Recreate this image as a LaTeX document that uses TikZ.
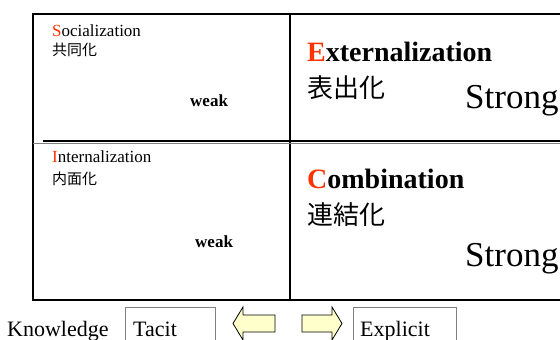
\documentclass[tikz,border=0pt]{standalone}
\usepackage{fontspec}
\setmainfont{Liberation Serif}
\newfontfamily\jpfont{Noto Sans CJK JP}
\definecolor{initRed}{HTML}{FF3300}
\definecolor{arrowYellow}{HTML}{FFFFCC}

\tikzstyle{smallTitle} = [anchor=base west, inner sep=0pt, font={\fontsize{17}{17}\selectfont}]
\tikzstyle{bigTitle} = [anchor=base west, inner sep=0pt, font={\fontsize{28}{28}\selectfont\bfseries}]
\tikzstyle{smallKanji} = [anchor=base west, inner sep=0pt, font={\jpfont\fontsize{15}{15}\selectfont}]
\tikzstyle{bigKanji} = [anchor=base west, inner sep=0pt, font={\jpfont\fontsize{26}{26}\selectfont}]
\tikzstyle{weakText} = [anchor=base west, inner sep=0pt, font={\fontsize{17}{17}\selectfont\bfseries}]
\tikzstyle{strongText} = [anchor=base west, inner sep=0pt, font={\fontsize{35}{35}\selectfont}]
\tikzstyle{knowText} = [anchor=base west, inner sep=0pt, font={\fontsize{22}{22}\selectfont}]
\tikzstyle{knowBox} = [rectangle, draw=gray, line width=1pt, anchor=north west, minimum height=45pt]
\tikzstyle{gridLine} = [line width=2pt]
\tikzstyle{yellowArrow} = [draw=black, fill=arrowYellow, line width=0.8pt, line join=miter]

\begin{document}
\begin{tikzpicture}[x=1pt, y=-1pt]
            \useasboundingbox (0,0) rectangle (560,340);
            % grid
            \coordinate (TL) at (33,14);
            \coordinate (TR) at (566,14);
            \coordinate (BL) at (33,300);
            \coordinate (BR) at (566,300);
            \coordinate (TM) at (290,14);
            \coordinate (BM) at (290,300);
            \coordinate (ML) at (43,141);
            \coordinate (MR) at (566,141);
            \draw[gridLine] (TL) rectangle (BR);
            \draw[gridLine] (TM) -- (BM);
            \draw[gray, line width=0.8pt] (33,143) -- (MR |- 0,143);
            \draw[gridLine] (ML) -- (MR);
            % quadrants
            \node[smallTitle] (SO) at (52,36) {\textcolor{initRed}{S}ocialization};
            \node[smallKanji] (SOjp) at (52,56) {共同化};
            \node[weakText] (SOweak) at (190,106) {weak};
            \node[bigTitle] (EX) at (307,61) {\textcolor{initRed}{E}xternalization};
            \node[bigKanji] (EXjp) at (307,97) {表出化};
            \node[strongText] (EXstrong) at (465,108) {Strong};
            \node[smallTitle] (IN) at (52,162) {\textcolor{initRed}{I}nternalization};
            \node[smallKanji] (INjp) at (52,184) {内面化};
            \node[weakText] (INweak) at (195,247) {weak};
            \node[bigTitle] (CO) at (307,188) {\textcolor{initRed}{C}ombination};
            \node[bigKanji] (COjp) at (307,224) {連結化};
            \node[strongText] (COstrong) at (465,266) {Strong};
            % knowledge row
            \node[knowText] (KN) at (7,336) {Knowledge};
            \node[knowBox, minimum width=90pt] (TAbox) at (125,307) {};
            \node[knowText] (TA) at (133,336) {Tacit};
            \node[knowBox, minimum width=103pt] (EXPbox) at (353,307) {};
            \node[knowText] (EXP) at (360,336) {Explicit};
            \draw[yellowArrow] (275,315) -- (243,315) -- (243,307) -- (233,323.5) -- (243,340) -- (243,332) -- (275,332) -- cycle;
            \draw[yellowArrow] (302,315) -- (332,315) -- (332,307) -- (342,323.5) -- (332,340) -- (332,332) -- (302,332) -- cycle;
        \end{tikzpicture}
\end{document}
